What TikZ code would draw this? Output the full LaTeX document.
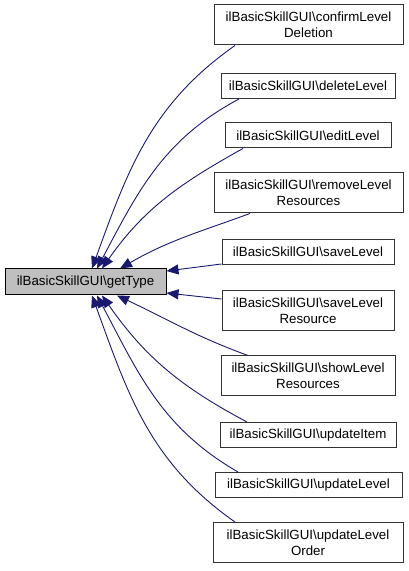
\documentclass[tikz,border=0pt]{standalone}
\usepackage{fontspec}
\setmainfont{Liberation Sans}
\usetikzlibrary{arrows.meta}
\definecolor{edgeblue}{RGB}{25,25,112}
\begin{document}
\begin{tikzpicture}[x=1pt, y=1pt, >={Triangle[length=12pt, width=10pt]},
    every node/.style={font=\fontsize{13.3}{16}\selectfont},
    fn/.style={draw=black!80, line width=1pt, align=center, inner sep=0pt, minimum height=25pt},
    fntwo/.style={fn, minimum height=40pt},
    edge/.style={->, edgeblue, line width=0.9pt}]

    \useasboundingbox (0,0) rectangle (408,571);

    % 中央のノード
    \node[draw=black, fill=black!25, line width=1pt, inner sep=0pt, minimum width=161pt, minimum height=26pt] (main) at (85.5, 289) {ilBasicSkillGUI\textbackslash getType};

    % 呼び出し元 (右列)
    \node[fntwo, minimum width=189pt] (conf) at (308.5, 546) {ilBasicSkillGUI\textbackslash confirmLevel\\Deletion};
    \node[fn, minimum width=174pt] (del) at (308, 485) {ilBasicSkillGUI\textbackslash deleteLevel};
    \node[fn, minimum width=166pt] (edit) at (308, 435.5) {ilBasicSkillGUI\textbackslash editLevel};
    \node[fntwo, minimum width=189pt] (remres) at (308.5, 378) {ilBasicSkillGUI\textbackslash removeLevel\\Resources};
    \node[fn, minimum width=172pt] (save) at (308, 319) {ilBasicSkillGUI\textbackslash saveLevel};
    \node[fntwo, minimum width=172pt] (saveres) at (308, 260) {ilBasicSkillGUI\textbackslash saveLevel\\Resource};
    \node[fntwo, minimum width=174pt] (showres) at (308, 195) {ilBasicSkillGUI\textbackslash showLevel\\Resources};
    \node[fn, minimum width=176pt] (upitem) at (308, 136) {ilBasicSkillGUI\textbackslash updateItem};
    \node[fn, minimum width=187pt] (uplev) at (308.5, 86) {ilBasicSkillGUI\textbackslash updateLevel};
    \node[fntwo, minimum width=190pt] (uporder) at (308, 28.5) {ilBasicSkillGUI\textbackslash updateLevel\\Order};

    % 上側の辺
    \draw[edge] ([xshift=-73.5pt]conf.south) to[out=215, in=70] ([xshift=6.5pt]main.north);
    \draw[edge] ([xshift=-69pt]del.south) to[out=208, in=62] ([xshift=11.5pt]main.north);
    \draw[edge] ([xshift=-65pt]edit.south) to[out=209, in=55] ([xshift=16.5pt]main.north);
    \draw[edge] ([xshift=-58.5pt]remres.south) to[out=200, in=30] ([xshift=34.5pt]main.north);

    % 右側の辺
    \draw[edge] ([yshift=-12pt]save.west) -- ([yshift=11pt]main.east);
    \draw[edge] ([yshift=12pt]saveres.west) -- ([yshift=-11pt]main.east);

    % 下側の辺
    \draw[edge] ([xshift=-60pt]showres.north) to[out=160, in=-25] ([xshift=31.5pt]main.south);
    \draw[edge] ([xshift=-61pt]upitem.north) to[out=152, in=-55] ([xshift=16.5pt]main.south);
    \draw[edge] ([xshift=-70.5pt]uplev.north) to[out=150, in=-62] ([xshift=11.5pt]main.south);
    \draw[edge] ([xshift=-73pt]uporder.north) to[out=145, in=-70] ([xshift=6.5pt]main.south);

  \end{tikzpicture}
\end{document}
